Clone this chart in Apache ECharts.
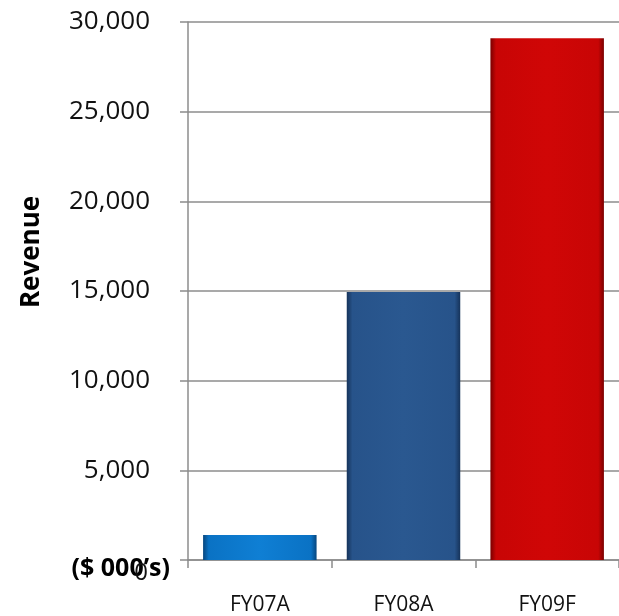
<!DOCTYPE html>
<html>
<head>
<meta charset="utf-8">
<script src="https://cdn.jsdelivr.net/npm/echarts@6/dist/echarts.min.js"></script>
<style>html,body{margin:0;padding:0;background:#fff;}#chart{width:619px;height:616px;}</style>
</head>
<body>
<div id="chart"></div>
<script>
const categories = ['FY07A', 'FY08A', 'FY09F'];
const revenue = [1400, 14950, 29100];
const yTicks = [0, 5000, 10000, 15000, 20000, 25000, 30000];
const barColors = [
  ['#06467e', '#0a72c4', '#0f7fd4', '#0a72c4', '#06467e'],
  ['#16335a', '#27538a', '#2a5890', '#27538a', '#16335a'],
  ['#7a0000', '#c80505', '#d00606', '#c80505', '#7a0000']
];

function grad(c) {
  return new echarts.graphic.LinearGradient(0, 0, 1, 0, [
    {offset: 0, color: c[0]}, {offset: 0.05, color: c[1]},
    {offset: 0.5, color: c[2]}, {offset: 0.95, color: c[3]}, {offset: 1, color: c[4]}
  ]);
}

const chart = echarts.init(document.getElementById('chart'), null, {renderer: 'canvas'});
const gray = '#8c8c8c';
chart.setOption({
  animation: false,
  grid: {left: 188, right: 0, top: 22, bottom: 55, containLabel: false},
  xAxis: {
    type: 'category',
    data: categories,
    axisLine: {lineStyle: {color: gray, width: 1.5}},
    axisTick: {show: true, length: 8, lineStyle: {color: gray, width: 1.5}},
    axisLabel: {fontFamily: 'Open Sans', fontSize: 21, color: '#111', margin: 35}
  },
  yAxis: {
    type: 'value',
    min: yTicks[0],
    max: yTicks[yTicks.length - 1],
    interval: yTicks[1] - yTicks[0],
    axisLine: {show: true, lineStyle: {color: gray, width: 1.5}},
    axisTick: {show: true, length: 8, lineStyle: {color: gray, width: 1.5}},
    splitLine: {lineStyle: {color: gray, width: 1.5}},
    axisLabel: {
      fontFamily: 'Open Sans', fontSize: 26, color: '#111', margin: 38,
      formatter: v => v === 0 ? '{z|0}' : v.toLocaleString('en-US'),
      rich: {z: {fontFamily: 'Open Sans', fontSize: 24, color: '#111', padding: [26, 2, 0, 0]}}
    }
  },
  series: [{
    type: 'bar',
    barCategoryGap: '21%',
    data: revenue.map((v, i) => ({value: v, itemStyle: {color: grad(barColors[i])}}))
  }],
  graphic: [
    {
      type: 'text', x: 32, y: 252, rotation: Math.PI / 2,
      style: {text: 'Revenue', font: 'bold 26px "Open Sans"', fill: '#000', align: 'center', verticalAlign: 'middle'}
    },
    {
      type: 'text', x: 170, y: 569,
      style: {text: '($ 000\u2019s)', font: 'bold 25px "Open Sans"', fill: '#000', align: 'right', verticalAlign: 'middle'}
    }
  ]
});
</script>
</body>
</html>
